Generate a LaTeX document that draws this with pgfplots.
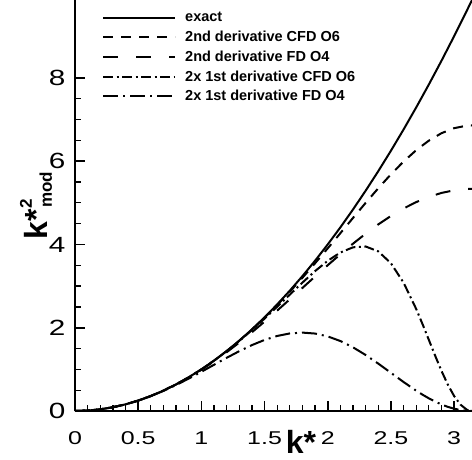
\documentclass[border=0pt]{standalone}
\usepackage{pgfplots}
\pgfplotsset{compat=1.18}
\usepackage{pgfplotstable}
\usepackage{fontspec}
\setmainfont{Liberation Sans}
\newfontfamily\tickfont[FakeStretch=1.35]{Liberation Sans}

\pgfplotstableread{
k exact cfd2 fd2
0.0 0 0 0
0.1 0.01 0.0100 0.0100
0.2 0.04 0.0400 0.0400
0.3 0.09 0.0900 0.0900
0.4 0.16 0.1600 0.1600
0.5 0.25 0.2500 0.2498
0.6 0.36 0.3600 0.3595
0.7 0.49 0.4900 0.4887
0.8 0.64 0.6399 0.6372
0.9 0.81 0.8099 0.8045
1.0 1.00 0.9997 0.9898
1.1 1.21 1.2093 1.1923
1.2 1.44 1.4386 1.4108
1.3 1.69 1.6873 1.6439
1.4 1.96 1.9550 1.8897
1.5 2.25 2.2412 2.1464
1.6 2.56 2.5450 2.4115
1.7 2.89 2.8654 2.6824
1.8 3.24 3.2006 2.9564
1.9 3.61 3.5486 3.2303
2.0 4.00 3.9064 3.5008
2.1 4.41 4.2705 3.7645
2.2 4.84 4.6363 4.0181
2.3 5.29 4.9982 4.2580
2.4 5.76 5.3496 4.4810
2.5 6.25 5.6831 4.6837
2.6 6.76 5.9905 4.8631
2.7 7.29 6.2632 5.0166
2.8 7.84 6.4928 5.1419
2.9 8.41 6.6714 5.2368
3.0 9.00 6.7925 5.3000
3.1 9.61 6.8516 5.3305
3.1416 9.8696 6.8571 5.3333
}\secondtab

\pgfplotstableread{
k cfd1 fd1
0.0 0 0
0.1 0.0100 0.0100
0.2 0.0400 0.0400
0.3 0.0900 0.0900
0.4 0.1600 0.1597
0.5 0.2500 0.2490
0.6 0.3600 0.3570
0.7 0.4899 0.4826
0.8 0.6398 0.6239
0.9 0.8095 0.7782
1.0 0.9989 0.9417
1.1 1.2076 1.1099
1.2 1.4351 1.2772
1.3 1.6805 1.4372
1.4 1.9422 1.5828
1.5 2.2179 1.7069
1.6 2.5042 1.8023
1.7 2.7956 1.8627
1.8 3.0846 1.8830
1.9 3.3603 1.8597
2.0 3.6076 1.7917
2.1 3.8063 1.6802
2.2 3.9309 1.5292
2.3 3.9508 1.3453
2.4 3.8332 1.1377
2.5 3.5488 0.9174
2.6 3.0831 0.6965
2.7 2.4503 0.4881
2.75 2.0873 0.3925
2.8 1.7083 0.3046
2.85 1.3282 0.2257
2.9 0.9644 0.1572
2.95 0.6354 0.1000
3.0 0.3600 0.0551
3.05 0.1546 0.0232
3.1 0.0324 0.0048
3.1416 0 0
}\firsttab

\begin{document}
\begin{tikzpicture}
\path[use as bounding box] (-75pt,-48pt) rectangle (397pt,411pt);
\begin{axis}[
  at={(0,0)}, anchor=south west,
  scale only axis, width=397pt, height=411pt,
  xmin=0, xmax=3.1416, ymin=0, ymax=9.87,
  axis x line*=bottom, axis y line*=left,
  axis line style={line width=2.4pt},
  xtick={0,0.5,1,1.5,2,2.5,3},
  xticklabels={0,0.5,1,1.5,2,2.5,3},
  ytick={0,2,4,6,8},
  minor x tick num=4, minor y tick num=3,
  tick align=inside,
  major tick length=10pt, minor tick length=6pt,
  every tick/.style={line width=1.6pt, black},
  every minor tick/.style={line width=1.3pt, black},
  /pgf/number format/assume math mode=true,
  xticklabel style={font=\tickfont\fontsize{18.5}{22}\selectfont, yshift=-17pt},
  yticklabel style={font=\tickfont\fontsize{22}{26}\selectfont, xshift=-6pt},
  xlabel={\fontsize{32}{36}\selectfont\bfseries k*},
  every axis x label/.style={at={(rel axis cs:0.569,0)}, anchor=base, yshift=-42pt, inner sep=0pt},
  ylabel={\fontsize{32}{36}\selectfont\bfseries k*\rlap{\raisebox{16pt}{\fontsize{17}{17}\selectfont\bfseries 2}}\kern1pt\raisebox{-4pt}{\fontsize{17}{17}\selectfont\bfseries mod}},
  every axis y label/.style={at={(rel axis cs:0,0.5)}, xshift=-27pt, rotate=90, anchor=base, inner sep=0pt},
  legend style={at={(rel axis cs:0,1)}, anchor=north west, draw=none, fill=none,
    xshift=25pt, yshift=-8pt, font=\fontsize{14.5}{17}\selectfont\bfseries,
    row sep=3.8pt, inner sep=2pt},
  legend cell align=left,
  legend image code/.code={\draw[#1] (0pt,0pt) -- (72pt,0pt); \path (79pt,0pt);},
  clip=true,
]
\addplot[black, line width=2pt] table[x=k, y=exact] {\secondtab};
\addlegendentry{exact}
\addplot[black, line width=2pt, dash pattern=on 10pt off 8pt] table[x=k, y=cfd2] {\secondtab};
\addlegendentry{2nd derivative CFD O6}
\addplot[black, line width=2pt, dash pattern=on 15pt off 18pt] table[x=k, y=fd2] {\secondtab};
\addlegendentry{2nd derivative FD O4}
\addplot[black, line width=2pt, dash pattern=on 10pt off 3.5pt on 2pt off 3.5pt] table[x=k, y=cfd1] {\firsttab};
\addlegendentry{2x 1st derivative CFD O6}
\addplot[black, line width=2pt, dash pattern=on 15pt off 5pt on 2pt off 5pt] table[x=k, y=fd1] {\firsttab};
\addlegendentry{2x 1st derivative FD O4}
\end{axis}
\end{tikzpicture}
\end{document}
